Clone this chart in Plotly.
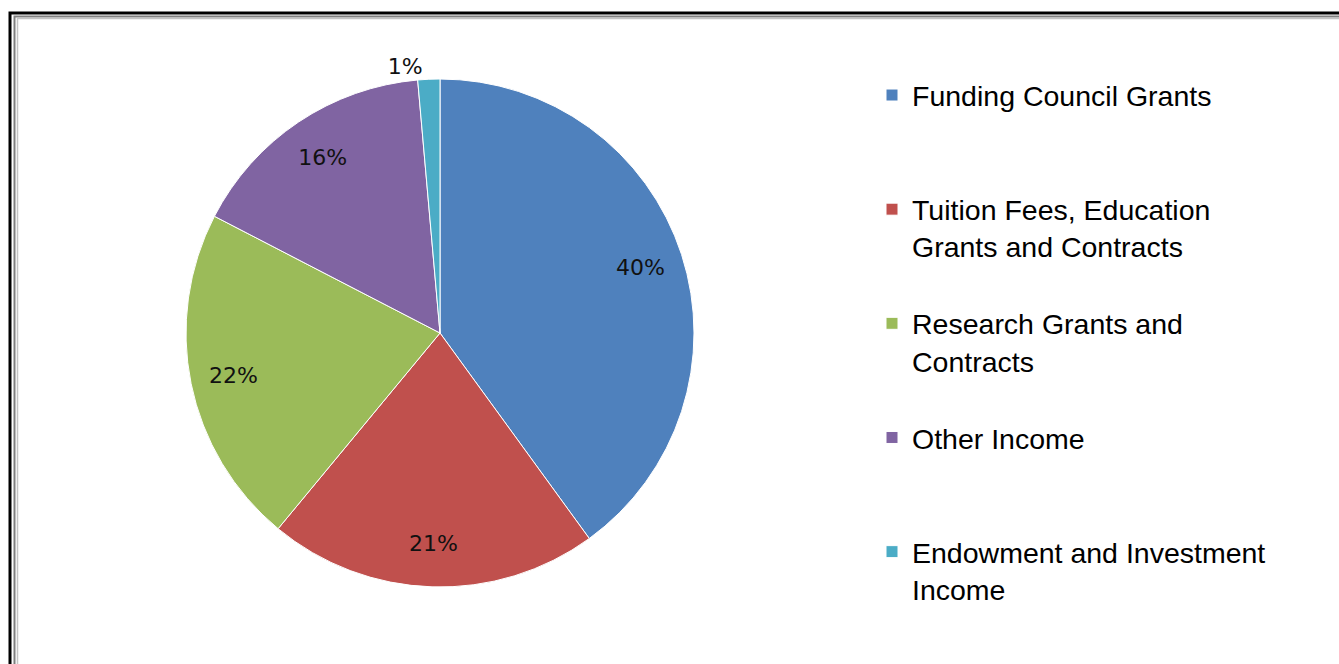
import plotly.graph_objects as go

# ---- data ----
categories = [
    "Funding Council Grants",
    "Tuition Fees, Education<br>Grants and Contracts",
    "Research Grants and<br>Contracts",
    "Other Income",
    "Endowment and Investment<br>Income",
]
shares = [40.0, 21.0, 21.6, 16.0, 1.4]
colors = ["#4F81BD", "#C0504D", "#9BBB59", "#8064A2", "#4BACC6"]
label_positions = ["inside", "inside", "inside", "inside", "outside"]

W, H = 1339, 664

# pad each legend label to the same number of lines so entries are evenly spaced
n_lines = 3
legend_labels = []
for c in categories:
    k = c.count("<br>") + 1
    legend_labels.append(c + "<br>\u00a0" * (n_lines - k))

# pie geometry (pixels)
cx, cy, r = 440, 333, 254
dom_x = [(cx - r) / W, (cx + r) / W]
dom_y = [(H - cy - r) / H, (H - cy + r) / H]

label_font = dict(family="DejaVu Sans, Verdana", size=22, color="#111111")

fig = go.Figure()

# main pie (slices + legend)
fig.add_trace(go.Pie(
    labels=legend_labels,
    values=shares,
    sort=False,
    direction="clockwise",
    rotation=0,
    marker=dict(colors=colors, line=dict(color="white", width=1)),
    textinfo="none",
    domain=dict(x=dom_x, y=dom_y),
    showlegend=True,
    hoverinfo="label+percent",
))

# transparent ring overlay that carries the percentage labels near the rim
fig.add_trace(go.Pie(
    labels=legend_labels,
    values=shares,
    sort=False,
    direction="clockwise",
    rotation=0,
    hole=0.66,
    marker=dict(colors=["rgba(0,0,0,0)"] * len(shares), line=dict(width=0)),
    texttemplate="%{percent:.0%}",
    textposition=label_positions,
    insidetextorientation="horizontal",
    textfont=label_font,
    insidetextfont=label_font,
    outsidetextfont=label_font,
    domain=dict(x=dom_x, y=dom_y),
    showlegend=False,
    hoverinfo="skip",
))

# frame lines (double border)
shapes = [
    dict(type="rect", xref="paper", yref="paper",
         x0=10 / W, x1=1.05, y0=-0.05, y1=1 - 13 / H,
         line=dict(color="black", width=3), fillcolor="rgba(0,0,0,0)", layer="above"),
    dict(type="rect", xref="paper", yref="paper",
         x0=14.5 / W, x1=1.05, y0=-0.05, y1=1 - 16.5 / H,
         line=dict(color="#7f7f7f", width=2), fillcolor="rgba(0,0,0,0)", layer="above"),
    dict(type="rect", xref="paper", yref="paper",
         x0=17.5 / W, x1=1.05, y0=-0.05, y1=1 - 18.5 / H,
         line=dict(color="#c4c4c4", width=1.5), fillcolor="rgba(0,0,0,0)", layer="above"),
]

fig.update_layout(
    width=W, height=H,
    margin=dict(l=0, r=0, t=0, b=0),
    paper_bgcolor="white",
    plot_bgcolor="white",
    shapes=shapes,
    legend=dict(
        x=(912 - 40) / W, xanchor="left",
        y=1 - 70 / H, yanchor="top",
        valign="top",
        font=dict(family="Liberation Sans, Arial", size=28.5, color="black"),
        bgcolor="rgba(0,0,0,0)",
        tracegroupgap=0,
    ),
)

fig.write_html("out.html")
